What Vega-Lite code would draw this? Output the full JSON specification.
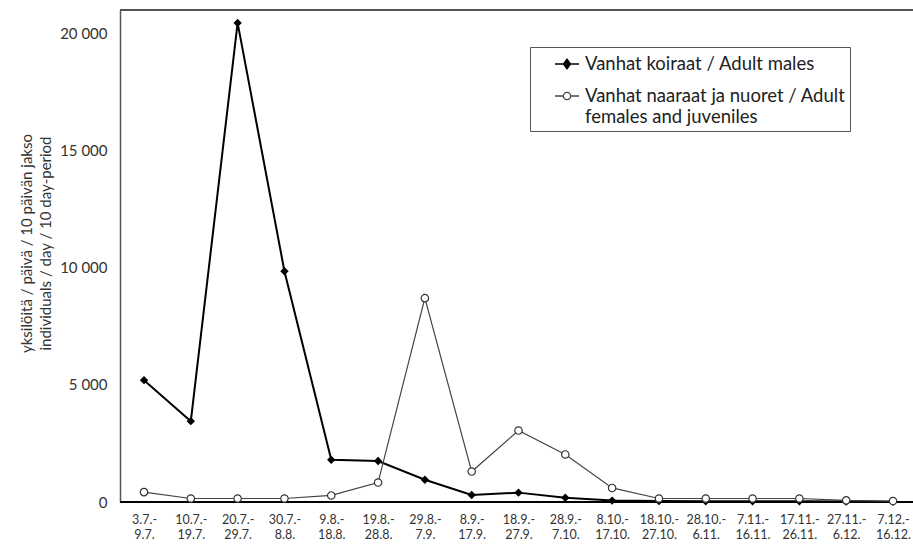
{
  "$schema": "https://vega.github.io/schema/vega-lite/v6.json",
  "width": 793,
  "height": 492,
  "autosize": {"type": "none"},
  "padding": {"left": 120, "top": 10, "right": 0, "bottom": 43},
  "background": "white",
  "config": {
    "view": {"stroke": null},
    "font": "Lato",
    "axis": {"grid": false, "ticks": false, "labelFont": "Lato", "titleFont": "Lato", "labelColor": "#333", "titleColor": "#333", "titleFontWeight": "normal"}
  },
  "data": {
    "values": [
      {"period": "3.7.-|9.7.", "series": "Vanhat koiraat / Adult males", "value": 5200},
      {"period": "10.7.-|19.7.", "series": "Vanhat koiraat / Adult males", "value": 3450},
      {"period": "20.7.-|29.7.", "series": "Vanhat koiraat / Adult males", "value": 20450},
      {"period": "30.7.-|8.8.", "series": "Vanhat koiraat / Adult males", "value": 9850},
      {"period": "9.8.-|18.8.", "series": "Vanhat koiraat / Adult males", "value": 1800},
      {"period": "19.8.-|28.8.", "series": "Vanhat koiraat / Adult males", "value": 1750},
      {"period": "29.8.-|7.9.", "series": "Vanhat koiraat / Adult males", "value": 950},
      {"period": "8.9.-|17.9.", "series": "Vanhat koiraat / Adult males", "value": 300},
      {"period": "18.9.-|27.9.", "series": "Vanhat koiraat / Adult males", "value": 400},
      {"period": "28.9.-|7.10.", "series": "Vanhat koiraat / Adult males", "value": 180},
      {"period": "8.10.-|17.10.", "series": "Vanhat koiraat / Adult males", "value": 60},
      {"period": "18.10.-|27.10.", "series": "Vanhat koiraat / Adult males", "value": 40},
      {"period": "28.10.-|6.11.", "series": "Vanhat koiraat / Adult males", "value": 30},
      {"period": "7.11.-|16.11.", "series": "Vanhat koiraat / Adult males", "value": 30},
      {"period": "17.11.-|26.11.", "series": "Vanhat koiraat / Adult males", "value": 30},
      {"period": "27.11.-|6.12.", "series": "Vanhat koiraat / Adult males", "value": 20},
      {"period": "7.12.-|16.12.", "series": "Vanhat koiraat / Adult males", "value": 10},
      {"period": "3.7.-|9.7.", "series": "Vanhat naaraat ja nuoret / Adult females and juveniles", "value": 420},
      {"period": "10.7.-|19.7.", "series": "Vanhat naaraat ja nuoret / Adult females and juveniles", "value": 150},
      {"period": "20.7.-|29.7.", "series": "Vanhat naaraat ja nuoret / Adult females and juveniles", "value": 150},
      {"period": "30.7.-|8.8.", "series": "Vanhat naaraat ja nuoret / Adult females and juveniles", "value": 150},
      {"period": "9.8.-|18.8.", "series": "Vanhat naaraat ja nuoret / Adult females and juveniles", "value": 280},
      {"period": "19.8.-|28.8.", "series": "Vanhat naaraat ja nuoret / Adult females and juveniles", "value": 830},
      {"period": "29.8.-|7.9.", "series": "Vanhat naaraat ja nuoret / Adult females and juveniles", "value": 8700},
      {"period": "8.9.-|17.9.", "series": "Vanhat naaraat ja nuoret / Adult females and juveniles", "value": 1300},
      {"period": "18.9.-|27.9.", "series": "Vanhat naaraat ja nuoret / Adult females and juveniles", "value": 3050},
      {"period": "28.9.-|7.10.", "series": "Vanhat naaraat ja nuoret / Adult females and juveniles", "value": 2030},
      {"period": "8.10.-|17.10.", "series": "Vanhat naaraat ja nuoret / Adult females and juveniles", "value": 600},
      {"period": "18.10.-|27.10.", "series": "Vanhat naaraat ja nuoret / Adult females and juveniles", "value": 150},
      {"period": "28.10.-|6.11.", "series": "Vanhat naaraat ja nuoret / Adult females and juveniles", "value": 150},
      {"period": "7.11.-|16.11.", "series": "Vanhat naaraat ja nuoret / Adult females and juveniles", "value": 150},
      {"period": "17.11.-|26.11.", "series": "Vanhat naaraat ja nuoret / Adult females and juveniles", "value": 150},
      {"period": "27.11.-|6.12.", "series": "Vanhat naaraat ja nuoret / Adult females and juveniles", "value": 70},
      {"period": "7.12.-|16.12.", "series": "Vanhat naaraat ja nuoret / Adult females and juveniles", "value": 40}
    ]
  },
  "encoding": {
    "x": {
      "field": "period", "type": "nominal", "sort": null,
      "scale": {"type": "point", "range": [24, 773], "padding": 0},
      "axis": {"title": null, "labelAngle": 0, "labelExpr": "split(datum.value, '|')", "labelFontSize": 12.5, "labelLineHeight": 15, "labelPadding": 11, "labelBaseline": "top", "domain": false, "labelColor": "#333"}
    },
    "y": {
      "field": "value", "type": "quantitative",
      "scale": {"domain": [0, 21000], "nice": false, "zero": true},
      "axis": {
        "values": [0, 5000, 10000, 15000, 20000],
        "labelExpr": "replace(format(datum.value, ','), ',', ' ')",
        "labelFontSize": 15, "labelPadding": 13,
        "domainColor": "#555", "domainWidth": 1.5,
        "title": ["yksilöitä  / päivä  / 10 päivän jakso", "individuals / day / 10 day-period"],
        "titleFontSize": 15, "titleLineHeight": 19, "titlePadding": 6, "titleY": 233
      }
    }
  },
  "layer": [
    {
      "mark": {"type": "rule", "color": "#555", "strokeWidth": 1.5},
      "encoding": {"y": {"datum": 21000}, "x": null}
    },
    {
      "mark": {"type": "rule", "color": "#000", "strokeWidth": 1.6},
      "encoding": {"y": {"datum": 0}, "x": null}
    },
    {
      "transform": [{"filter": "datum.series == 'Vanhat koiraat / Adult males'"}],
      "mark": {"type": "line", "strokeWidth": 2},
      "encoding": {
        "color": {
          "field": "series", "type": "nominal",
          "scale": {"domain": ["Vanhat koiraat / Adult males", "Vanhat naaraat ja nuoret / Adult females and juveniles"], "range": ["#000000", "#444444"]},
          "legend": {
            "orient": "none", "legendX": 410, "legendY": 37, "title": null,
            "padding": 4, "strokeColor": "#555", "fillColor": "white",
            "labelFont": "Lato", "labelFontSize": 18.5, "labelColor": "#222", "labelLimit": 600,
            "symbolSize": 576, "symbolOffset": 20, "labelOffset": 5, "rowPadding": 9,
            "labelExpr": "datum.label == 'Vanhat naaraat ja nuoret / Adult females and juveniles' ? ['Vanhat naaraat ja nuoret / Adult\u00a0\u00a0\u00a0\u00a0\u00a0\u00a0\u00a0\u00a0\u00a0\u00a0\u00a0\u00a0\u00a0', 'females and juveniles'] : datum.label",
            "encode": {
              "symbols": {"update": {
                "shape": {"signal": "datum.value == 'Vanhat koiraat / Adult males' ? 'M-1,0L1,0M0,-0.4L0.3,0L0,0.4L-0.3,0Z' : 'M-1,0L-0.3,0M0.3,0L1,0M0.3,0A0.3,0.3 0 1 1 -0.3,0A0.3,0.3 0 1 1 0.3,0Z'"},
                "fill": {"signal": "datum.value == 'Vanhat koiraat / Adult males' ? '#000' : '#fff'"},
                "stroke": {"value": "#111"},
                "strokeWidth": {"value": 1.3}
              }},
              "labels": {"update": {"lineHeight": {"value": 21}}}
            }
          }
        }
      }
    },
    {
      "transform": [{"filter": "datum.series == 'Vanhat koiraat / Adult males'"}],
      "mark": {"type": "point", "shape": "diamond", "filled": true, "color": "#000", "size": 70, "opacity": 1}
    },
    {
      "transform": [{"filter": "datum.series != 'Vanhat koiraat / Adult males'"}],
      "mark": {"type": "line", "strokeWidth": 1.2},
      "encoding": {
        "color": {
          "field": "series", "type": "nominal",
          "scale": {"domain": ["Vanhat koiraat / Adult males", "Vanhat naaraat ja nuoret / Adult females and juveniles"], "range": ["#000000", "#444444"]}
        }
      }
    },
    {
      "transform": [{"filter": "datum.series != 'Vanhat koiraat / Adult males'"}],
      "mark": {"type": "point", "shape": "circle", "filled": true, "fill": "#fff", "stroke": "#333", "strokeWidth": 1.2, "size": 55, "opacity": 1}
    }
  ]
}
